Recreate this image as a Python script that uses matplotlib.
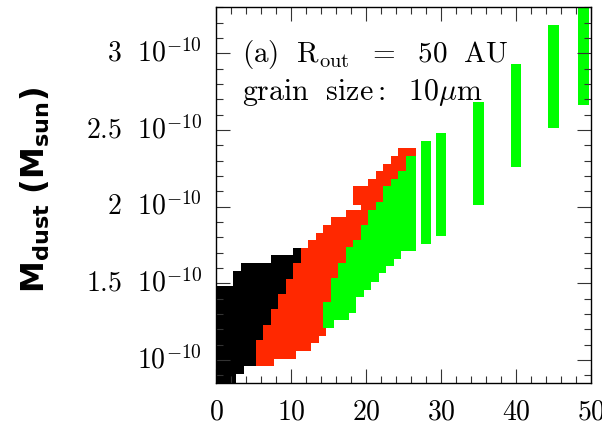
import matplotlib
matplotlib.use("Agg")
import matplotlib.pyplot as plt
from matplotlib.ticker import FixedLocator, MultipleLocator

plt.rcParams['mathtext.fontset'] = 'cm'

# ---- data (M_dust in units of 1e-10 M_sun; visible column extents) ----
black_x  = [0, 1, 2, 3, 4, 5, 6, 7, 8, 9, 10, 11]
black_lo = [0.80, 0.80, 0.80, 0.907, 0.961, 0.961, 0.961, 1.13, 1.13, 1.13, 1.13, 1.13]
black_hi = [1.485, 1.485, 1.485, 1.580, 1.633, 1.633, 1.633, 1.633, 1.685, 1.685, 1.685, 1.732]

red_x  = [6, 7, 8, 9, 10, 11, 12, 13, 14, 15, 16, 17, 18, 19, 19, 20, 21, 22, 23, 24, 25, 26]
red_lo = [0.961, 0.961, 1.007, 1.007, 1.007, 1.059, 1.059, 1.109, 1.158, 1.30, 1.40, 1.45,
          1.50, 2.011, 1.60, 1.70, 1.75, 1.80, 1.90, 1.95, 2.00, 2.05]
red_hi = [1.132, 1.228, 1.333, 1.430, 1.526, 1.635, 1.732, 1.783, 1.830, 1.880, 1.931, 1.931,
          1.978, 2.135, 1.978, 2.135, 2.180, 2.233, 2.280, 2.330, 2.385, 2.385]

green_x  = [15, 16, 17, 18, 19, 20, 21, 22, 23, 24, 25, 26, 28, 30, 35, 40, 45, 49]
green_lo = [1.211, 1.261, 1.261, 1.308, 1.409, 1.457, 1.511, 1.565, 1.615, 1.661, 1.713, 1.713,
            1.759, 1.811, 2.013, 2.261, 2.515, 2.665]
green_hi = [1.380, 1.532, 1.635, 1.734, 1.785, 1.880, 1.978, 2.030, 2.135, 2.180, 2.233, 2.332,
            2.428, 2.481, 2.683, 2.930, 3.185, 3.335]

xtick_values = [0, 10, 20, 30, 40, 50]
xtick_labels = ['0', '10', '20', '30', '40', '50']
ytick_values = [1.0, 1.5, 2.0, 2.5, 3.0]
ytick_labels = [r'$10^{-10}$', r'$1.5\ \ 10^{-10}$', r'$2\ \ 10^{-10}$',
                r'$2.5\ \ 10^{-10}$', r'$3\ \ 10^{-10}$']

fig = plt.figure(figsize=(6.02, 4.26), dpi=100)
ax = fig.add_axes([0.3588, 0.1002, 0.6229, 0.8827])

W = 1.45
for xs, lo, hi, col in [(black_x, black_lo, black_hi, '#000000'),
                        (red_x, red_lo, red_hi, '#ff2800'),
                        (green_x, green_lo, green_hi, '#00ff00')]:
    ax.bar(xs, [h - l for h, l in zip(hi, lo)], bottom=lo, width=W,
           color=col, linewidth=0, align='center')

ax.set_xlim(0, 50)
ax.set_ylim(0.848, 3.30)

ax.xaxis.set_major_locator(FixedLocator(xtick_values))
ax.set_xticklabels([r'$%s$' % s for s in xtick_labels])
ax.xaxis.set_minor_locator(MultipleLocator(2))
ax.yaxis.set_major_locator(FixedLocator(ytick_values))
ax.set_yticklabels(ytick_labels)
ax.yaxis.set_minor_locator(MultipleLocator(0.1))

ax.tick_params(which='both', direction='in', top=True, right=True, width=0.8, color='#333333')
ax.tick_params(which='major', length=10)
ax.tick_params(which='minor', length=5)
ax.tick_params(axis='x', which='major', labelsize=20, pad=10)
ax.tick_params(axis='y', which='major', labelsize=20, pad=10)
for lab in ax.get_yticklabels():
    lab.set_verticalalignment('center')
for s in ax.spines.values():
    s.set_linewidth(1.0)

ax.text(0.0685, 0.8553, r'$\mathrm{(a)\ \ R_{out}\ \ =\ \ 50\ \ AU}$', transform=ax.transAxes,
        fontsize=21, ha='left', va='baseline')
ax.text(0.0685, 0.7535, r'$\mathrm{grain\ \ size{:}\ \ 10}\mu\mathrm{m}$', transform=ax.transAxes,
        fontsize=21.5, ha='left', va='baseline')

fig.text(35 / 602, 1 - 190 / 426,
         r'$\mathbf{M}_{\mathbf{dust}}\ \mathbf{(M}_{\mathbf{sun}}\mathbf{)}$',
         rotation=90, ha='center', va='center', fontsize=23, math_fontfamily='dejavusans')

fig.savefig('out.png', dpi=100)
